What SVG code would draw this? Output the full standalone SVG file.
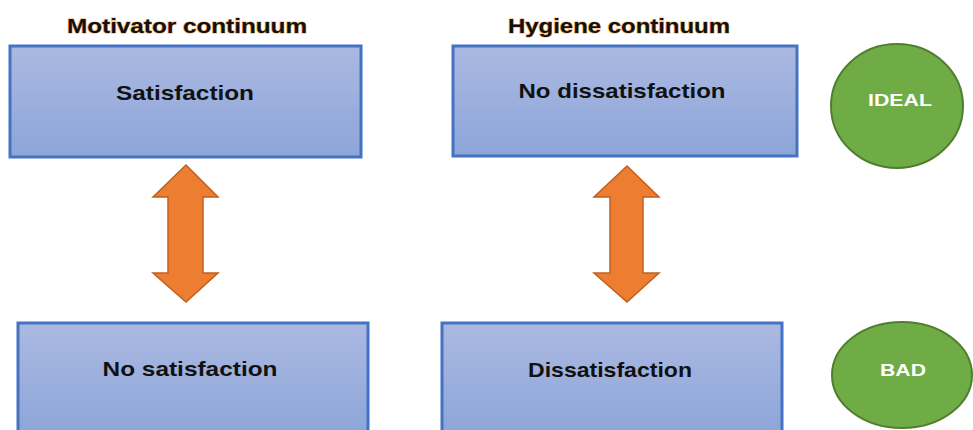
<svg xmlns="http://www.w3.org/2000/svg" width="973" height="430" viewBox="0 0 973 430">
<defs>
<linearGradient id="boxg" x1="0" y1="0" x2="0" y2="1">
<stop offset="0" stop-color="#abb9e1"/>
<stop offset="1" stop-color="#8da5d9"/>
</linearGradient>
<style>
.box{fill:url(#boxg);stroke:#4472c4;stroke-width:3}
.lbl{font-family:"Liberation Sans",Arial,sans-serif;font-weight:bold;font-size:21px;fill:#111;text-anchor:middle}
.title{font-family:"Liberation Sans",Arial,sans-serif;font-weight:bold;font-size:20px;fill:#111;text-anchor:middle;stroke:#f3b46a;stroke-width:1.2;paint-order:stroke}
.arrow{fill:#ed7d31;stroke:#c0601e;stroke-width:1.5;stroke-linejoin:miter}
.oval{fill:#6fac46;stroke:#4f7f2e;stroke-width:2}
.ovl{font-family:"Liberation Sans",Arial,sans-serif;font-weight:bold;font-size:16px;fill:#fff;text-anchor:middle}
</style>
</defs>
<rect width="973" height="430" fill="#fff"/>
<g id="title-motivator"><text class="title" x="187" y="33" textLength="240" lengthAdjust="spacingAndGlyphs">Motivator continuum</text></g>
<g id="title-hygiene"><text class="title" x="619" y="33" textLength="222" lengthAdjust="spacingAndGlyphs">Hygiene continuum</text></g>
<g id="satisfaction"><rect class="box" x="10" y="46" width="351" height="111"/><text class="lbl" x="185" y="100" textLength="138" lengthAdjust="spacingAndGlyphs">Satisfaction</text></g>
<g id="no-dissatisfaction"><rect class="box" x="453" y="46" width="344" height="110"/><text class="lbl" x="622" y="98" textLength="207" lengthAdjust="spacingAndGlyphs">No dissatisfaction</text></g>
<g id="no-satisfaction"><rect class="box" x="18" y="323" width="350" height="112"/><text class="lbl" x="190" y="376" textLength="175" lengthAdjust="spacingAndGlyphs">No satisfaction</text></g>
<g id="dissatisfaction"><rect class="box" x="442" y="323" width="340" height="112"/><text class="lbl" x="610" y="377" textLength="164" lengthAdjust="spacingAndGlyphs">Dissatisfaction</text></g>
<g id="ideal"><ellipse class="oval" cx="897" cy="106" rx="66" ry="62"/><text class="ovl" x="900" y="106" textLength="64" lengthAdjust="spacingAndGlyphs">IDEAL</text></g>
<g id="bad"><ellipse class="oval" cx="902" cy="375" rx="70" ry="53"/><text class="ovl" x="903" y="376" textLength="46" lengthAdjust="spacingAndGlyphs">BAD</text></g>
<g id="connectors">
<polygon class="arrow" points="186,165 218,197 203,197 203,273 218,273 186,302 153,273 168,273 168,197 153,197"/>
<polygon class="arrow" points="627,166 659,197 643,197 643,273 659,273 627,302 594,273 610,273 610,197 594,197"/>
</g>
</svg>
